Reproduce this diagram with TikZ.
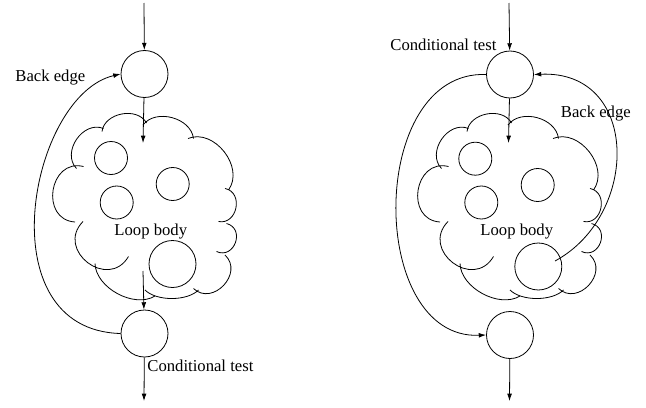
\documentclass[tikz,border=0pt]{standalone}
\usepackage{fontspec}
\setmainfont{Liberation Serif}
\usetikzlibrary{arrows.meta}

\tikzset{
	blk/.style={shape=circle, draw, minimum size=35.25pt, inner sep=0pt},
	inner/.style={shape=circle, draw, minimum size=24.75pt, inner sep=0pt},
	lbl/.style={anchor=base west, inner sep=0pt, font=\fontsize{12.5}{15}\selectfont},
	puff/.style 2 args={bend left=#1, looseness=#2},
}

\newcommand{\drawcloud}{%
	\draw (102,131.5) to[puff={72}{1.07}] (146.5,123)
		(143,125) to[puff={68}{1.03}] (193.5,138.5)
		(188,138.5) to[puff={74}{1.10}] (228.5,190)
		(225,188.5) to[puff={90}{1.47}] (218.5,221.5)
		(226.5,223.5) to[puff={95}{1.71}] (216.5,251.5)
		(225,255) to[puff={90}{1.47}] (193.5,288.5)
		(198.5,290) to[puff={45}{0.77}] (145,290)
		(155,296) to[puff={60}{0.91}] (95,263.5)
		(128.5,256.5) to[puff={97}{1.78}] (83,221.5)
		(75,222) to[puff={95}{1.62}] (83.5,166.5)
		(76.5,168.5) to[puff={78}{1.18}] (103.5,128.5);}

\begin{document}
\begin{tikzpicture}[x=0.75pt, y=-0.75pt, line width=0.6pt, >={Latex[length=5.5pt,width=3.6pt]}]
	\useasboundingbox (0,0) rectangle (646,407);

	% test at the bottom
	\node[blk] (topL) at (144.5,74) {};
	\node[blk] (botL) at (144.5,333.5) {};
	\node[inner] (c1L) at (111,158) {};
	\node[inner] (c2L) at (172.7,184) {};
	\node[inner] (c3L) at (116.7,202.5) {};
	\node[blk] (bigL) at (172.5,264) {};
	\drawcloud
	\node[lbl] (backL) at (15,81) {Back edge};
	\node[lbl] (bodyL) at (114,235.5) {Loop body};
	\node[lbl] (testL) at (147,371) {Conditional test};
	\coordinate (inL) at (144,3);
	\coordinate (bodyinL) at (143,143);
	\coordinate (bodyoutL) at (143,271);
	\coordinate (exitL) at (144,401);

	\path [->] (inL) edge (topL);
	\path [->] (topL) edge (bodyinL);
	\path [->] (bodyoutL) edge (botL);
	\path [->] (botL) edge (exitL);
	\draw [->] (botL.west) .. controls (-15,330) and (30,95) .. (topL.west);

	% test at the top
	\node[blk] (topR) at (510,74.5) {};
	\node[blk] (botR) at (510,335) {};
	\node[inner] (c1R) at (475.3,158.7) {};
	\node[inner] (c2R) at (537.7,185) {};
	\node[inner] (c3R) at (481.3,202.5) {};
	\node[blk] (bigR) at (538.3,266.5) {};
	\begin{scope}[shift={(365,0)}]
		\drawcloud
	\end{scope}
	\node[lbl] (testR) at (390,50) {Conditional test};
	\node[lbl] (backR) at (560.5,117) {Back edge};
	\node[lbl] (bodyR) at (480,235.5) {Loop body};
	\coordinate (inR) at (509,3);
	\coordinate (bodyinR) at (508.5,143);
	\coordinate (loopR) at (555,261);
	\coordinate (exitR) at (509.5,401);

	\path [->] (inR) edge (topR);
	\path [->] (topR) edge (bodyinR);
	\path [->] (botR) edge (exitR);
	\draw [->] (topR.west) .. controls (367,70) and (367,340) .. (botR.west);
	\draw [->] (loopR) .. controls (640,215) and (640,70) .. (topR.east);
\end{tikzpicture}
\end{document}
